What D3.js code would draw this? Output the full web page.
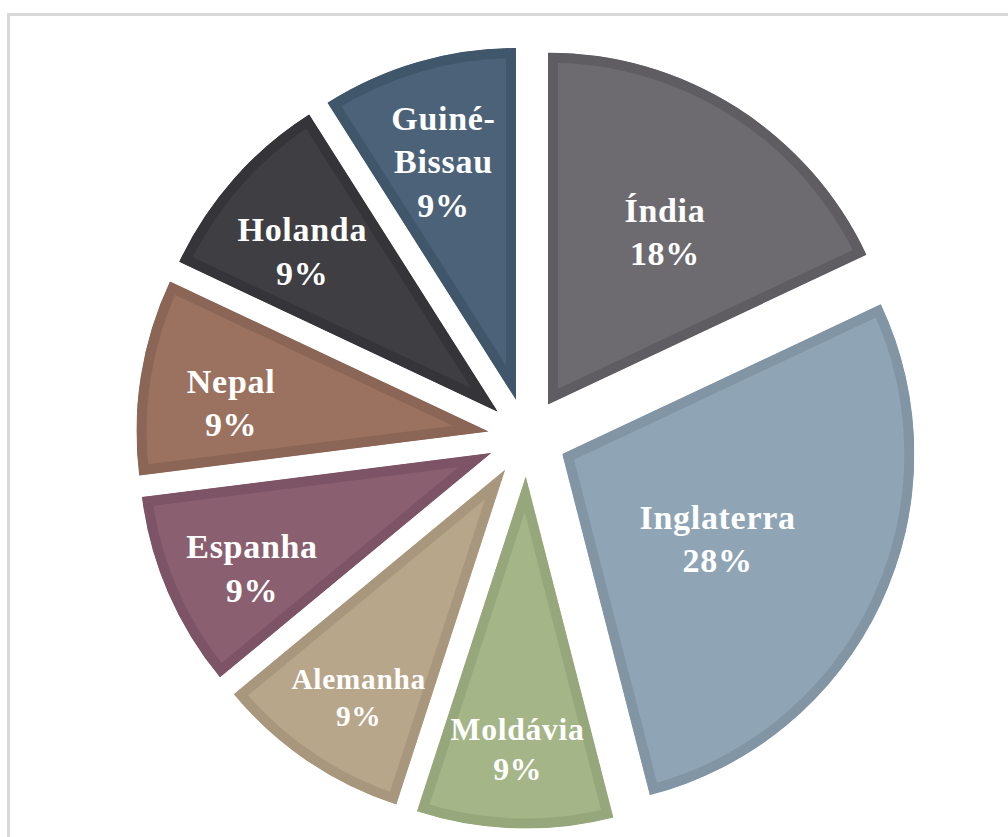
<!DOCTYPE html>
<html lang="pt">
  <head>
    <meta charset="UTF-8" />
    <title>Países</title>
    <style>
      body { margin: 0; background: #fff; }
      text { font-family: "Liberation Serif", "Times New Roman", serif; font-weight: bold; }
    </style>
  </head>
  <body>
    <svg id="container" width="1008" height="837"></svg>
  </body>
  <script src="https://cdn.jsdelivr.net/npm/d3@7/dist/d3.min.js"></script>
  <script>
    // data, clockwise from 12 o'clock
    let countries = ["Índia", "Inglaterra", "Moldávia", "Alemanha", "Espanha", "Nepal", "Holanda", "Guiné-Bissau"];
    let percents = [18, 28, 9, 9, 9, 9, 9, 9];
    let fills = ["#6d6b70", "#8fa5b5", "#a4b587", "#b8a68a", "#8a6070", "#9b7260", "#3f3e43", "#4b6279"];
    let borders = ["#5f5d62", "#8195a4", "#96a87b", "#a8977c", "#7c5465", "#8b6555", "#353438", "#40566b"];

    let svg = d3.select("#container");

    // light frame around the chart area
    svg.append("rect")
      .attr("x", 8.5).attr("y", 14.5)
      .attr("width", 1100).attr("height", 900)
      .attr("fill", "none").attr("stroke", "#d9d9d9").attr("stroke-width", 3);

    let cx = 527, cy = 437.5;
    let radius = 352;
    let explode = 39;

    let pie = d3.pie().sort(null).value(d => d);
    let arcs = pie(percents);
    let arc = d3.arc().innerRadius(0).outerRadius(radius);

    let body = svg.append("g").attr("transform", `translate(${cx},${cy})`);
    let defs = svg.append("defs");

    let slice = body.selectAll("g.slice").data(arcs).enter().append("g")
      .attr("class", "slice")
      .attr("transform", d => {
        let a = (d.startAngle + d.endAngle) / 2;
        return `translate(${explode * Math.sin(a)},${-explode * Math.cos(a)})`;
      });

    // clip each slice to itself so the border sits inside the wedge
    defs.selectAll("clipPath").data(arcs).enter().append("clipPath")
      .attr("id", (d, i) => "clip" + i)
      .append("path").attr("d", arc);

    slice.append("path")
      .attr("d", arc)
      .attr("fill", (d, i) => fills[i])
      .attr("stroke", (d, i) => borders[i])
      .attr("stroke-width", 20)
      .attr("stroke-linejoin", "miter")
      .attr("clip-path", (d, i) => `url(#clip${i})`);

    // labels: name (wrapped after a hyphen) and percentage
    let baseSize = 34;
    slice.each(function (d, i) {
      let g = d3.select(this);
      let a = (d.startAngle + d.endAngle) / 2;
      let lr = radius * (0.86 - 0.0133 * d.data);
      let x = lr * Math.sin(a), y = -lr * Math.cos(a) + 12;
      let lines = countries[i].replace("-", "-\n").split("\n");
      lines.push(percents[i] + "%");

      let t = g.append("text")
        .attr("text-anchor", "middle")
        .attr("fill", "#ffffff")
        .attr("letter-spacing", 0.7)
        .attr("font-size", baseSize);
      lines.forEach(s => t.append("tspan").attr("x", x).text(s));

      // shrink the label when it is wider than the wedge at that radius
      let chord = 2 * lr * Math.sin((d.endAngle - d.startAngle) / 2) * 0.92;
      let w = t.node().getBBox().width;
      let size = w > chord ? baseSize * chord / w : baseSize;
      let lineH = size * 1.27;
      t.attr("font-size", size);
      t.selectAll("tspan")
        .attr("y", (s, k) => y - (lines.length - 1) * lineH / 2 + k * lineH + size * 0.34);
    });
  </script>
</html>
